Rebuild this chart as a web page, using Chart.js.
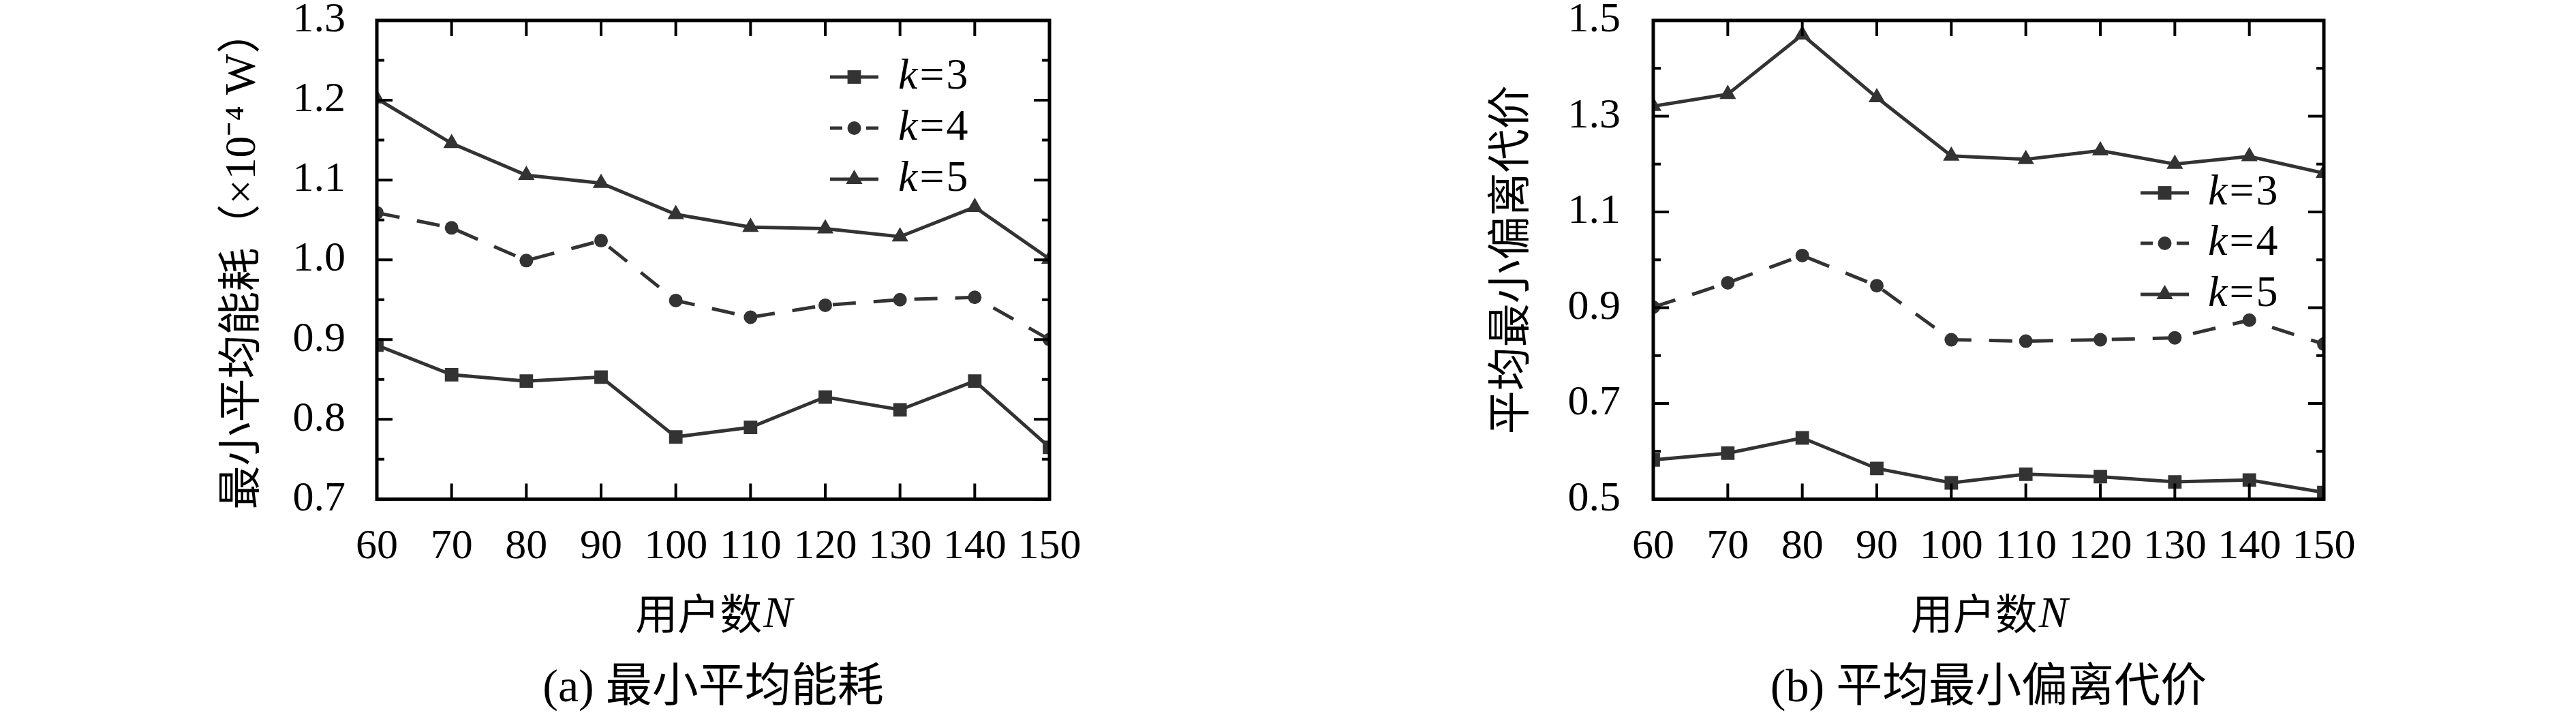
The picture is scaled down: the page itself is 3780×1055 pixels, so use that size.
<!DOCTYPE html>
<html>
<head>
<meta charset="utf-8">
<script src="https://cdn.jsdelivr.net/npm/chart.js@4.4.0/dist/chart.umd.min.js"></script>
<style>
html, body { margin: 0; padding: 0; background: #fff; }
body { width: 3780px; height: 1055px; position: relative; overflow: hidden; }
.panel { position: absolute; top: 0; width: 1890px; height: 1055px; }
#panelA { left: 0; }
#panelB { left: 1890px; }
</style>
</head>
<body>
<div class="panel" id="panelA"><canvas id="chartA" width="1890" height="1055"></canvas></div>
<div class="panel" id="panelB"><canvas id="chartB" width="1890" height="1055"></canvas></div>
<script>
// number of users N (x axis)
const userCounts = ['60', '70', '80', '90', '100', '110', '120', '130', '140', '150'];
const seriesNames = ['k=3', 'k=4', 'k=5'];

// (a) minimum average energy, x1e-4 W
const energyK3 = [0.893, 0.856, 0.848, 0.853, 0.778, 0.790, 0.828, 0.812, 0.848, 0.765];
const energyK4 = [1.059, 1.040, 0.999, 1.024, 0.949, 0.928, 0.943, 0.950, 0.953, 0.900];
const energyK5 = [1.202, 1.146, 1.106, 1.096, 1.057, 1.041, 1.039, 1.029, 1.066, 1.001];
const energyTicks = [0.7, 0.8, 0.9, 1.0, 1.1, 1.2, 1.3];

// (b) average minimum deviation cost
const costK3 = [0.582, 0.596, 0.628, 0.564, 0.534, 0.552, 0.547, 0.536, 0.540, 0.514];
const costK4 = [0.901, 0.952, 1.009, 0.946, 0.833, 0.830, 0.833, 0.837, 0.874, 0.824];
const costK5 = [1.321, 1.346, 1.470, 1.339, 1.217, 1.210, 1.228, 1.200, 1.216, 1.181];
const costTicks = [0.5, 0.7, 0.9, 1.1, 1.3, 1.5];

const SERIF = '"Liberation Serif", "Times New Roman", serif';
const CJK = '"Noto Sans CJK SC", sans-serif';
const MIXED = '"Liberation Serif", "Noto Sans CJK SC", serif';
const LINE = '#333333';

Chart.defaults.color = '#000';
Chart.defaults.font.family = MIXED;

function makeDatasets(v3, v4, v5) {
    const base = {
        borderColor: LINE,
        backgroundColor: LINE,
        pointBackgroundColor: LINE,
        borderWidth: 5,
        pointBorderWidth: 0,
        pointHoverRadius: 0,
        tension: 0,
        fill: false,
        clip: 0
    };
    return [
        Object.assign({}, base, { label: seriesNames[0], data: v3, pointStyle: 'rect', pointRadius: 14 }),
        Object.assign({}, base, { label: seriesNames[1], data: v4, pointStyle: 'circle', pointRadius: 10, borderDash: [34, 26] }),
        Object.assign({}, base, { label: seriesNames[2], data: v5, pointStyle: 'triangle', pointRadius: 14 })
    ];
}

// inward ticks on all four sides + the box, gnuplot style
const frameTicks = {
    id: 'frameTicks',
    afterDatasetsDraw(chart) {
        const { ctx, chartArea: a, scales: { x, y } } = chart;
        ctx.save();
        ctx.strokeStyle = '#000';
        ctx.lineWidth = 4;
        ctx.beginPath();
        x.ticks.forEach((t, i) => {
            const px = x.getPixelForTick(i);
            ctx.moveTo(px, a.bottom); ctx.lineTo(px, a.bottom - 23);
            ctx.moveTo(px, a.top); ctx.lineTo(px, a.top + 23);
        });
        const major = y.ticks.map(t => t.value);
        major.forEach(v => {
            const py = y.getPixelForValue(v);
            ctx.moveTo(a.left, py); ctx.lineTo(a.left + 23, py);
            ctx.moveTo(a.right, py); ctx.lineTo(a.right - 23, py);
        });
        // minor ticks halfway between labelled ones
        for (let i = 0; i < major.length - 1; i++) {
            const py = y.getPixelForValue((major[i] + major[i + 1]) / 2);
            ctx.moveTo(a.left, py); ctx.lineTo(a.left + 11, py);
            ctx.moveTo(a.right, py); ctx.lineTo(a.right - 11, py);
        }
        ctx.stroke();
        ctx.lineWidth = 5;
        ctx.strokeRect(a.left, a.top, a.right - a.left, a.bottom - a.top);
        ctx.restore();
    }
};

function drawMarker(ctx, style, r, x, y) {
    ctx.beginPath();
    if (style === 'rect') {
        const s = Math.SQRT1_2 * r;
        ctx.rect(x - s, y - s, 2 * s, 2 * s);
    } else if (style === 'circle') {
        ctx.arc(x, y, r, 0, Math.PI * 2);
    } else {
        for (let k = 0; k < 3; k++) {
            const ang = k * 2 * Math.PI / 3;
            const px = x + Math.sin(ang) * r, py = y - Math.cos(ang) * r;
            if (k === 0) ctx.moveTo(px, py); else ctx.lineTo(px, py);
        }
        ctx.closePath();
    }
    ctx.fill();
}

// legend inside the plot, rows placed relative to the chart area
const boxLegend = {
    id: 'boxLegend',
    afterDraw(chart, args, opts) {
        const { ctx, chartArea: a } = chart;
        ctx.save();
        chart.data.datasets.forEach((ds, i) => {
            const rowY = a.top + opts.rows[i];
            const x0 = a.right - opts.lineFrom, x1 = a.right - opts.lineTo;
            ctx.strokeStyle = ds.borderColor;
            ctx.fillStyle = ds.borderColor;
            ctx.lineWidth = 5;
            ctx.setLineDash(ds.borderDash ? [18, 35] : []);
            ctx.beginPath();
            ctx.moveTo(x0, rowY); ctx.lineTo(x1, rowY);
            ctx.stroke();
            ctx.setLineDash([]);
            drawMarker(ctx, ds.pointStyle, ds.pointRadius, (x0 + x1) / 2, rowY);

            let tx = a.right - opts.textAt;
            ctx.fillStyle = '#000';
            ctx.textBaseline = 'middle';
            ctx.textAlign = 'left';
            ctx.font = 'italic 64px ' + SERIF;
            ctx.fillText('k', tx, rowY);
            tx += ctx.measureText('k').width + 3;
            ctx.font = '64px ' + SERIF;
            ctx.fillText('=', tx, rowY);
            tx += ctx.measureText('=').width + 3;
            ctx.fillText(ds.label.split('=')[1], tx, rowY);
        });
        ctx.restore();
    }
};

// x axis title with italic N
const xTitle = {
    id: 'xTitle',
    afterDraw(chart) {
        const { ctx, chartArea: a } = chart;
        const cx = (a.left + a.right) / 2, cy = a.bottom + 168;
        ctx.save();
        ctx.fillStyle = '#000';
        ctx.textBaseline = 'middle';
        ctx.textAlign = 'left';
        ctx.font = '62px ' + CJK;
        const w1 = ctx.measureText('用户数').width;
        ctx.font = 'italic 64px ' + SERIF;
        const w2 = ctx.measureText('N').width;
        let x = cx - (w1 + w2) / 2;
        ctx.font = '62px ' + CJK;
        ctx.fillText('用户数', x, cy);
        ctx.font = 'italic 64px ' + SERIF;
        ctx.fillText('N', x + w1 + 2, cy + 3);
        ctx.restore();
    }
};

function buildChart(id, p) {
    return new Chart(document.getElementById(id), {
        type: 'line',
        data: {
            labels: userCounts,
            datasets: makeDatasets(p.v3, p.v4, p.v5)
        },
        options: {
            responsive: false,
            devicePixelRatio: 1,
            animation: false,
            events: [],
            layout: { padding: { left: 0, right: p.padRight, top: 30, bottom: 0 } },
            scales: {
                x: {
                    type: 'category',
                    offset: false,
                    grid: { display: false, drawTicks: false },
                    border: { display: false },
                    ticks: {
                        autoSkip: false,
                        maxRotation: 0,
                        padding: 33,
                        font: { family: SERIF, size: 62 }
                    },
                    afterFit: (s) => { s.height = 238; s.paddingLeft = 0; s.paddingRight = 0; }
                },
                y: {
                    min: p.min,
                    max: p.max,
                    grid: { display: false, drawTicks: false },
                    border: { display: false },
                    afterBuildTicks: (s) => { s.ticks = p.ticks.map(v => ({ value: v })); },
                    ticks: {
                        padding: p.tickPad,
                        font: { family: SERIF, size: 62 },
                        callback: (v) => Number(v).toFixed(1)
                    },
                    title: {
                        display: true,
                        text: p.yTitle,
                        font: { family: MIXED, size: 64 },
                        padding: { top: p.titleCenter - 38.4, bottom: 0 }
                    },
                    afterFit: (s) => { s.width = p.axisWidth; s.paddingTop = 0; s.paddingBottom = 0; }
                }
            },
            plugins: {
                legend: { display: false },
                tooltip: { enabled: false },
                title: {
                    display: true,
                    position: 'bottom',
                    fullSize: false,
                    text: p.subtitle,
                    color: '#000',
                    font: { family: MIXED, size: 68, weight: 'normal' },
                    padding: { top: 0, bottom: 3 }
                },
                boxLegend: p.legend
            }
        },
        plugins: [frameTicks, boxLegend, xTitle]
    });
}

buildChart('chartA', {
    v3: energyK3, v4: energyK4, v5: energyK5,
    min: 0.7, max: 1.3, ticks: energyTicks,
    yTitle: '最小平均能耗（×10⁻⁴ W）',
    subtitle: '(a) 最小平均能耗',
    axisWidth: 553, tickPad: 46, titleCenter: 357, padRight: 350,
    legend: { rows: [83, 158, 233], lineFrom: 322, lineTo: 251, textAt: 222 }
});

buildChart('chartB', {
    v3: costK3, v4: costK4, v5: costK5,
    min: 0.5, max: 1.5, ticks: costTicks,
    yTitle: '平均最小偏离代价',
    subtitle: '(b) 平均最小偏离代价',
    axisWidth: 536, tickPad: 48, titleCenter: 330, padRight: 370,
    legend: { rows: [253, 327, 402], lineFrom: 269, lineTo: 198, textAt: 170 }
});
</script>
</body>
</html>
